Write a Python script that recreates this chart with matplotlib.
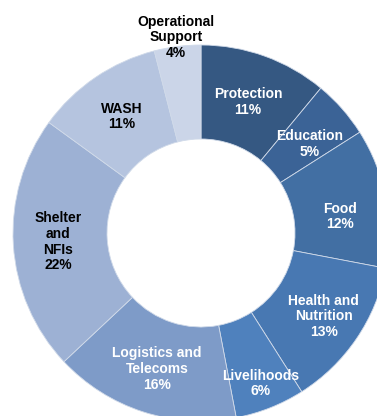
import numpy as np
import matplotlib
matplotlib.use("Agg")
import matplotlib.pyplot as plt

plt.rcParams['font.family'] = ['Liberation Sans', 'DejaVu Sans']

# funding share by sector, clockwise from the top
sectors = ["Protection", "Education", "Food", "Health and\nNutrition", "Livelihoods",
           "Logistics and\nTelecoms", "Shelter\nand\nNFIs", "WASH", "Operational\nSupport"]
shares = [11, 5, 12, 13, 6, 16, 22, 11, 4]
colors = ["#355882", "#3b6396", "#426fa3", "#4878b2", "#4f81bd",
          "#7e9bc8", "#9db1d4", "#b5c4df", "#cbd5e8"]
text_colors = ["white"] * 6 + ["black"] * 3
# how far out each label sits (fraction of outer radius) and a small clockwise nudge in degrees
label_r = [0.74, 0.745, 0.745, 0.79, 0.86, 0.76, 0.76, 0.75, 1.05]
label_turn = [0, 2, 4, 0, 0, 0, 0, 0, 0]

W, H = 377, 416
cx, cy = 201, 233      # centre in pixels from top-left
R = 188

fig = plt.figure(figsize=(W / 100, H / 100), dpi=100)
ax = fig.add_axes([0, 0, 1, 1])

wedges, _ = ax.pie(shares, colors=colors, radius=R, startangle=90, counterclock=False,
                   wedgeprops=dict(width=R * 0.5, edgecolor="#d0dae9", linewidth=0.6))

total = sum(shares)
start = 90.0
for name, val, tc, rf, turn in zip(sectors, shares, text_colors, label_r, label_turn):
    sweep = 360.0 * val / total
    mid = np.deg2rad(start - sweep / 2 - turn)
    start -= sweep
    x = rf * R * np.cos(mid)
    y = rf * R * np.sin(mid)
    ax.text(x, y, f"{name}\n{val}%", ha="center", va="center", color=tc,
            fontsize=10, fontweight="bold", linespacing=1.15)

ax.set_xlim(-cx, W - cx)
ax.set_ylim(-(H - cy), cy)
ax.set_aspect("equal")
ax.axis("off")

fig.savefig("out.png", dpi=100)
